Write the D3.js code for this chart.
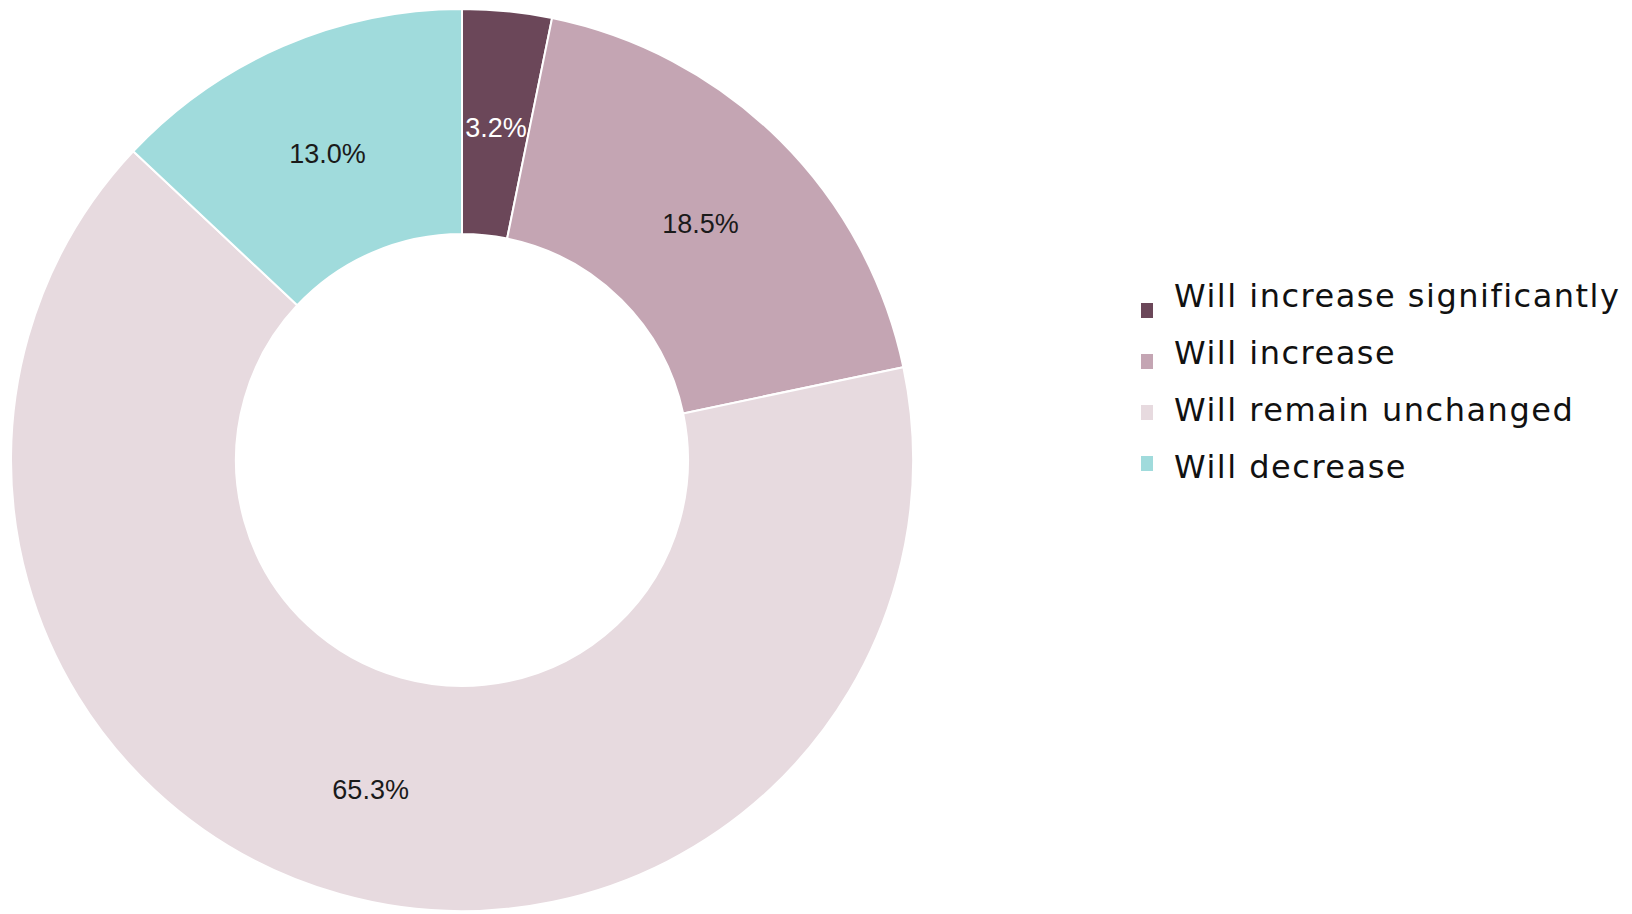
<!DOCTYPE html>
<html>
<head>
<meta charset="utf-8">
<script src="https://cdn.jsdelivr.net/npm/d3@7"></script>
<style>
  html, body { margin: 0; padding: 0; background: #ffffff; }
</style>
</head>
<body>
<div id="root"></div>
<script>
// Chart size
const width = 1632;
const height = 914;

// Data
const categories = [
  "Will increase significantly",
  "Will increase",
  "Will remain unchanged",
  "Will decrease"
];
const values = [3.2, 18.5, 65.3, 13.0];
const labelColors = ["#ffffff", "#1a1a1a", "#1a1a1a", "#1a1a1a"];
const colors = ["#6b4759", "#c4a5b3", "#e7dadf", "#a0dbdc"];

// Donut geometry
const cx = 462;
const cy = 460;
const outerRadius = 451;
const innerRadius = 226;

const color = d3.scaleOrdinal().domain(categories).range(colors);

const svg = d3
  .select("#root")
  .append("svg")
  .attr("width", width)
  .attr("height", height);

const pie = d3
  .pie()
  .sort(null)
  .value((d, i) => values[i]);

const arc = d3
  .arc()
  .innerRadius(innerRadius)
  .outerRadius(outerRadius);

const arcs = pie(categories);

const donut = svg
  .append("g")
  .attr("transform", "translate(" + cx + "," + cy + ")");

donut
  .selectAll("path")
  .data(arcs)
  .enter()
  .append("path")
  .attr("d", arc)
  .attr("fill", d => color(d.data))
  .attr("stroke", "#ffffff")
  .attr("stroke-width", 2);

// Slice labels
donut
  .selectAll("text")
  .data(arcs)
  .enter()
  .append("text")
  .attr("transform", d => "translate(" + arc.centroid(d) + ")")
  .attr("dy", "0.5em")
  .attr("text-anchor", "middle")
  .attr("font-family", "'Liberation Sans', Arial, sans-serif")
  .attr("font-size", 27)
  .attr("fill", (d, i) => labelColors[i])
  .text(d => d.value.toFixed(1) + "%");

// Legend
const legend = svg.append("g").attr("class", "legend");

legend
  .selectAll("rect")
  .data(categories)
  .enter()
  .append("rect")
  .attr("x", 1141)
  .attr("y", (d, i) => 303 + i * 51)
  .attr("width", 12)
  .attr("height", 15)
  .attr("fill", d => color(d));

legend
  .selectAll("text")
  .data(categories)
  .enter()
  .append("text")
  .attr("x", 1174)
  .attr("y", (d, i) => 307 + i * 57)
  .attr("font-family", "'DejaVu Sans', sans-serif")
  .attr("font-size", 32)
  .attr("letter-spacing", "1.5px")
  .attr("fill", "#111111")
  .text(d => d);
</script>
</body>
</html>
